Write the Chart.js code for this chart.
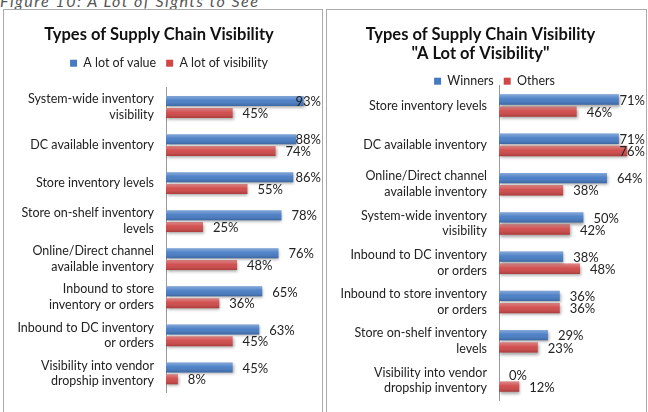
<!DOCTYPE html>
<html>
<head>
<meta charset="utf-8">
<script src="https://cdn.jsdelivr.net/npm/chart.js@4/dist/chart.umd.min.js"></script>
<style>
  body { margin: 0; background: #fff; width: 648px; height: 412px; overflow: hidden; position: relative; font-family: Lato, sans-serif; }
  #caption { position: absolute; left: 0; top: -9px; font: italic 16px Lato, sans-serif; letter-spacing: 1.5px; color: #555; white-space: nowrap; }
  .panel { position: absolute; top: 9px; height: 410px; border: 1px solid #aaa; background: #fff; }
  #leftPanel { left: 3px; width: 318px; }
  #rightPanel { left: 326px; width: 319px; }
  canvas { position: absolute; left: 0; top: 0; }
</style>
</head>
<body>
<div id="caption">Figure 10: A Lot of Sights to See</div>
<div class="panel" id="leftPanel"><canvas id="leftChart" width="318" height="402"></canvas></div>
<div class="panel" id="rightPanel"><canvas id="rightChart" width="319" height="402"></canvas></div>
<script>
// left chart data
const leftCategories = [
    ['System-wide inventory', 'visibility'],
    'DC available inventory',
    'Store inventory levels',
    ['Store on-shelf inventory', 'levels'],
    ['Online/Direct channel', 'available inventory'],
    ['Inbound to store', 'inventory or orders'],
    ['Inbound to DC inventory', 'or orders'],
    ['Visibility into vendor', 'dropship inventory']
];
const lotOfValue = [93, 88, 86, 78, 76, 65, 63, 45];
const lotOfVisibility = [45, 74, 55, 25, 48, 36, 45, 8];

// right chart data
const rightCategories = [
    'Store inventory levels',
    'DC available inventory',
    ['Online/Direct channel', 'available inventory'],
    ['System-wide inventory', 'visibility'],
    ['Inbound to DC inventory', 'or orders'],
    ['Inbound to store inventory', 'or orders'],
    ['Store on-shelf inventory', 'levels'],
    ['Visibility into vendor', 'dropship inventory']
];
const winners = [71, 71, 64, 50, 38, 36, 29, 0];
const others = [46, 76, 38, 42, 48, 36, 23, 12];

const BLUE = '#467bc4';
const RED = '#cf4747';

// soft shadow + glossy shading on the bars
const barShade = {
    id: 'barShade',
    beforeDatasetsDraw(chart) {
        const ctx = chart.ctx;
        ctx.save();
        ctx.shadowColor = 'rgba(0,0,0,0.35)';
        ctx.shadowBlur = 3;
        ctx.shadowOffsetX = 1;
        ctx.shadowOffsetY = 2;
    },
    afterDatasetsDraw(chart) {
        const ctx = chart.ctx;
        ctx.restore();
        chart.data.datasets.forEach((ds, i) => {
            chart.getDatasetMeta(i).data.forEach(bar => {
                const top = bar.y - bar.height / 2;
                const w = bar.x - bar.base;
                if (w <= 0) return;
                const g = ctx.createLinearGradient(0, top, 0, top + bar.height);
                g.addColorStop(0, 'rgba(255,255,255,0.35)');
                g.addColorStop(0.45, 'rgba(255,255,255,0.05)');
                g.addColorStop(1, 'rgba(0,0,0,0.18)');
                ctx.fillStyle = g;
                ctx.fillRect(bar.base, top, w, bar.height);
            });
        });
    }
};

// percentage labels outside the bar ends
const valueLabels = {
    id: 'valueLabels',
    afterDatasetsDraw(chart) {
        const ctx = chart.ctx;
        ctx.save();
        ctx.font = '13px Lato, sans-serif';
        ctx.fillStyle = '#222';
        ctx.textBaseline = 'middle';
        chart.data.datasets.forEach((ds, i) => {
            chart.getDatasetMeta(i).data.forEach((bar, j) => {
                const txt = ds.data[j] + '%';
                const tw = ctx.measureText(txt).width;
                let x = bar.x + 10;
                if (x + tw > chart.width - 1) x = chart.width - 1 - tw;
                ctx.fillText(txt, x, bar.y + 1);
            });
        });
        ctx.restore();
    }
};

// fixed legend block height (so the plot starts where it does in the original)
// and a small sideways nudge of the legend
const legendGap = {
    id: 'legendGap',
    beforeLayout(chart, args, opts) {
        const lg = chart.legend;
        if (!lg || lg._gapped) return;
        const fit = lg.fit;
        lg.fit = function () {
            fit.call(this);
            this.height = opts.height;
        };
        const draw = lg.draw;
        lg.draw = function () {
            this.ctx.save();
            this.ctx.translate(opts.shift, 0);
            draw.call(this);
            this.ctx.restore();
        };
        lg._gapped = true;
    }
};

function makeChart(id, cats, s1, s2, names, title, xMax, axisWidth, pad, titlePad, legendHeight, legendShift) {
    return new Chart(document.getElementById(id), {
        type: 'bar',
        data: {
            labels: cats,
            datasets: [
                { label: names[0], data: s1, backgroundColor: BLUE },
                { label: names[1], data: s2, backgroundColor: RED }
            ]
        },
        options: {
            indexAxis: 'y',
            responsive: false,
            animation: false,
            categoryPercentage: 0.62,
            barPercentage: 0.85,
            layout: { padding: pad },
            scales: {
                x: { display: false, min: 0, max: xMax },
                y: {
                    grid: { display: false },
                    border: { display: true, color: '#999' },
                    ticks: { color: '#222', font: { family: 'Lato', size: 12.5, lineHeight: 1.25 }, padding: 4 },
                    afterFit(scale) { scale.width = axisWidth; }
                }
            },
            plugins: {
                tooltip: { enabled: false },
                title: {
                    display: true,
                    text: title,
                    color: '#111',
                    font: { family: 'Lato', size: 16.5, weight: 'bold', lineHeight: 1.15 },
                    padding: titlePad
                },
                legend: {
                    labels: {
                        boxWidth: 7, boxHeight: 7, color: '#222',
                        font: { family: 'Lato', size: 12.5 }, padding: 10
                    }
                },
                legendGap: { height: legendHeight, shift: legendShift }
            }
        },
        plugins: [barShade, valueLabels, legendGap]
    });
}

makeChart('leftChart', leftCategories, lotOfValue, lotOfVisibility,
    ['A lot of value', 'A lot of visibility'], 'Types of Supply Chain Visibility',
    100, 162, { left: 0, right: 8, top: 0, bottom: 19 }, { top: 15, bottom: 3 }, 41, 10);

makeChart('rightChart', rightCategories, winners, others,
    ['Winners', 'Others'], ['Types of Supply Chain Visibility', '"A Lot of Visibility"'],
    80, 172, { left: 0, right: 12, top: 0, bottom: 3 }, { top: 15, bottom: 2 }, 21, 14);
</script>
</body>
</html>
